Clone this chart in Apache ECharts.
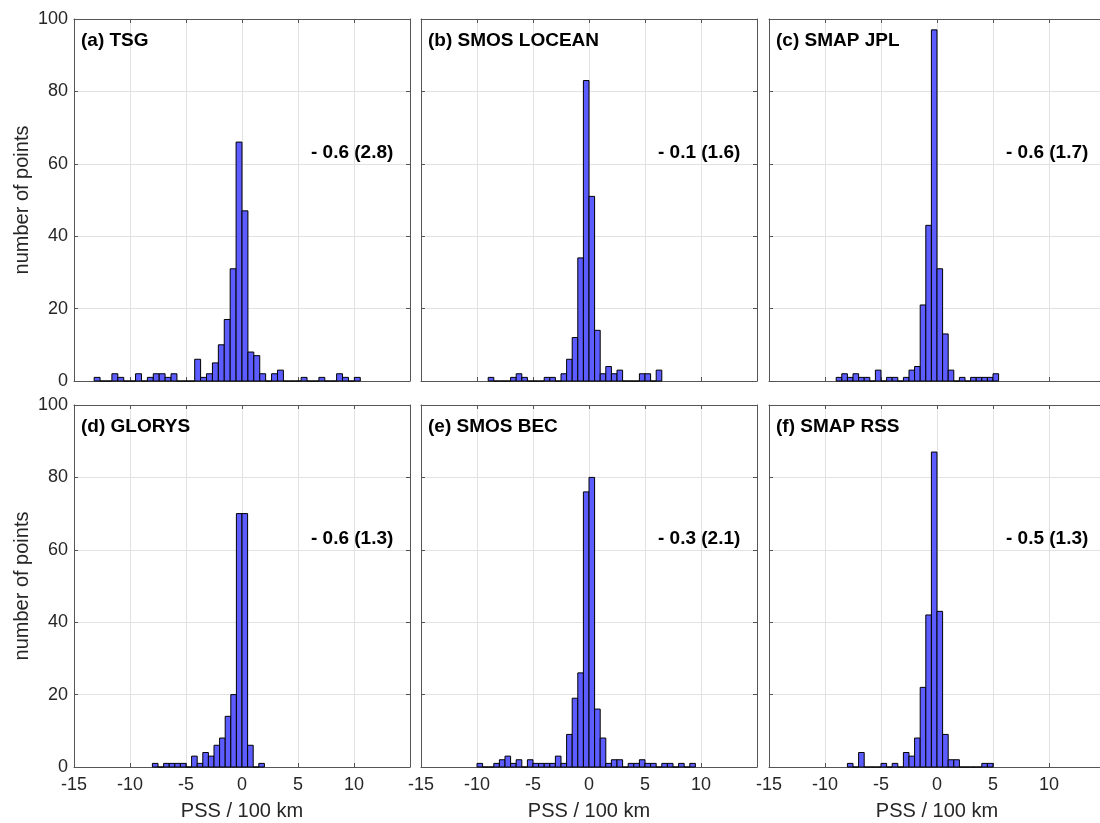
<!DOCTYPE html>
<html><head><meta charset="utf-8">
<script src="https://cdn.jsdelivr.net/npm/echarts@6/dist/echarts.min.js"></script>
<style>html,body{margin:0;padding:0;background:#fff}#c{width:1100px;height:823px}</style>
</head><body><div id="c"></div>
<script>
// ---- data ----
const panelTitles = ['(a) TSG', '(b) SMOS LOCEAN', '(c) SMAP JPL', '(d) GLORYS', '(e) SMOS BEC', '(f) SMAP RSS'];
const panelStats = ['- 0.6 (2.8)', '- 0.1 (1.6)', '- 0.6 (1.7)', '- 0.6 (1.3)', '- 0.3 (2.1)', '- 0.5 (1.3)'];
const binWidths = [0.528, 0.5, 0.5, 0.5, 0.5, 0.5];
const firstBinIndex = [-25, -18, -18, -16, -20, -16]; // left edge of first bin = index * width
const countsA = [1,0,0,2,1,0,0,2,0,1,2,2,1,2,0,0,0,6,1,2,5,10,17,31,66,47,8,7,2,0,2,3,0,0,0,1,0,0,1,0,0,2,1,0,1];
const countsB = [1,0,0,0,1,2,1,0,0,0,1,1,0,2,6,12,34,83,51,14,2,4,2,3,0,0,0,2,2,0,3];
const countsC = [1,2,1,2,1,1,0,3,0,1,1,0,1,3,4,21,43,97,31,13,3,0,1,0,1,1,1,1,2];
const countsD = [1,0,1,1,1,1,0,3,1,4,3,6,8,14,20,70,70,6,0,1];
const countsE = [1,0,0,1,2,3,1,2,0,2,1,1,1,1,3,1,9,19,26,76,80,16,8,1,2,2,0,1,1,2,1,1,0,1,1,0,1,0,1];
const countsF = [1,0,4,0,0,0,1,0,1,0,4,3,8,22,42,87,43,9,2,2,0,0,0,0,1,1];
const allCounts = [countsA, countsB, countsC, countsD, countsE, countsF];
const xMin = -15, xMax = 15, xStep = 5;
const yMin = 0, yMax = 100, yStep = 20;
const xName = 'PSS / 100 km';
const yName = 'number of points';

// ---- layout ----
const lefts = [74, 421, 769];
const tops = [19, 405];
const W = 336, H = 362;
const axisColor = '#555555';
const textColor = '#262626';
const barColor = '#5c5cff';

const grids = [], xAxes = [], yAxes = [], series = [], graphics = [];
for (let i = 0; i < 6; i++) {
  const row = Math.floor(i / 3), col = i % 3;
  grids.push({left: lefts[col], top: tops[row], width: W, height: H, containLabel: false, outerBoundsMode: 'none'});
  const common = {
    gridIndex: i, type: 'value', min: xMin, max: xMax, interval: xStep,
    axisLine: {show: true, onZero: false, lineStyle: {color: axisColor, width: 1}},
    axisTick: {show: true, inside: true, length: 4, lineStyle: {color: axisColor}},
  };
  xAxes.push(Object.assign({}, common, {
    position: 'bottom',
    axisLabel: {show: row === 1, fontSize: 18, color: textColor, margin: 9, fontFamily: 'Liberation Sans',
      formatter: v => (v === xMax ? '' : String(v))},
    splitLine: {show: true, lineStyle: {color: '#e2e2e2', width: 1}},
    name: row === 1 ? xName : '', nameLocation: 'middle', nameGap: 34,
    nameTextStyle: {fontSize: 20, color: textColor, fontFamily: 'Liberation Sans'}
  }));
  xAxes.push(Object.assign({}, common, {
    position: 'top', axisLabel: {show: false}, splitLine: {show: false}
  }));
  const ycommon = {
    gridIndex: i, type: 'value', min: yMin, max: yMax, interval: yStep,
    axisLine: {show: true, onZero: false, lineStyle: {color: axisColor, width: 1}},
    axisTick: {show: true, inside: true, length: 4, lineStyle: {color: axisColor}},
  };
  yAxes.push(Object.assign({}, ycommon, {
    position: 'left',
    axisLabel: {show: col === 0, fontSize: 18, color: textColor, margin: 6, fontFamily: 'Liberation Sans'},
    splitLine: {show: true, lineStyle: {color: '#e2e2e2', width: 1}},
    name: col === 0 ? yName : '', nameLocation: 'middle', nameGap: 42, nameRotate: 90,
    nameTextStyle: {fontSize: 20, color: textColor, fontFamily: 'Liberation Sans'}
  }));
  yAxes.push(Object.assign({}, ycommon, {
    position: 'right', axisLabel: {show: false}, splitLine: {show: false}
  }));
  const w = binWidths[i], k0 = firstBinIndex[i];
  const data = allCounts[i].map((c, j) => [(k0 + j) * w, (k0 + j + 1) * w, c]);
  series.push({
    type: 'custom', xAxisIndex: 2 * i, yAxisIndex: 2 * i, data: data,
    encode: {x: [0, 1], y: 2},
    renderItem: function (params, api) {
      const p0 = api.coord([api.value(0), api.value(2)]);
      const p1 = api.coord([api.value(1), 0]);
      return {
        type: 'rect',
        shape: {x: p0[0], y: p0[1], width: p1[0] - p0[0], height: p1[1] - p0[1]},
        style: {fill: barColor, stroke: '#000', lineWidth: 1}
      };
    },
    z: 3
  });
  graphics.push({type: 'text', left: lefts[col] + 7, top: tops[row] + 12, z: 10,
    style: {text: panelTitles[i], font: 'bold 19px "Liberation Sans"', fill: '#000'}});
  graphics.push({type: 'text', left: lefts[col] + 237, top: tops[row] + 124, z: 10,
    style: {text: panelStats[i], font: 'bold 19px "Liberation Sans"', fill: '#000'}});
}

const chart = echarts.init(document.getElementById('c'), null, {renderer: 'canvas'});
chart.setOption({
  animation: false,
  backgroundColor: '#fff',
  grid: grids, xAxis: xAxes, yAxis: yAxes, series: series, graphic: graphics
});
</script></body></html>
